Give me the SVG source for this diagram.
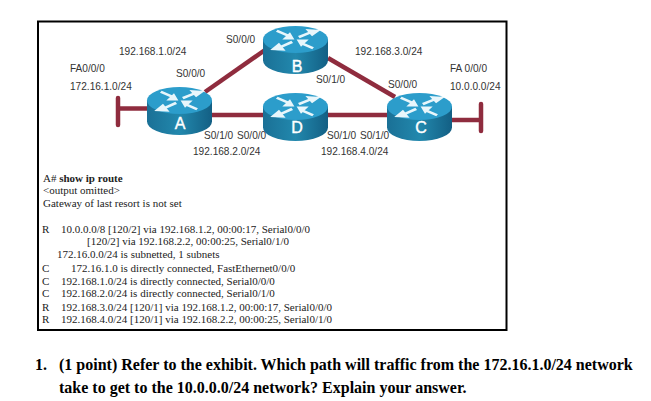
<svg xmlns="http://www.w3.org/2000/svg" xmlns:xlink="http://www.w3.org/1999/xlink" width="651" height="401" viewBox="0 0 651 401">
<style>
.l{font-family:"Liberation Sans",Arial,sans-serif;font-size:10.1px;fill:#333}
.t{font-family:"Liberation Serif","Times New Roman",serif;font-size:11px;fill:#222}
.q{font-family:"Liberation Serif","Times New Roman",serif;font-size:16px;font-weight:bold;fill:#000}
.n{font-family:"Liberation Sans",Arial,sans-serif;font-size:16px;fill:#fff;text-anchor:middle;stroke:#fff;stroke-width:.4}
.link{stroke:#8f2c3e;stroke-width:4.500;fill:none}
.bar{stroke:#8f2c3e;stroke-width:4.500;stroke-linecap:round;fill:none}
.arr{fill:#e8f6fb}
.sh{stroke:#e8f6fb;stroke-width:3;fill:none}
</style>
<defs>
<linearGradient id="side" x1="0" x2="1" y1="0" y2="0"><stop offset="0" stop-color="#1a7096"/><stop offset=".5" stop-color="#2288ad"/><stop offset="1" stop-color="#135f84"/></linearGradient>
<g id="router">
<path d="M-32.500 -10.500V10.500A32.500 13.500 0 0 0 32.500 10.500V-10.500Z" fill="url(#side)"/>
<ellipse cx="0" cy="-10.500" rx="32.500" ry="13.500" fill="#2c9dcb"/>
<g transform="translate(0 -10.500) scale(1.1 .8) translate(0 8)">
<path class="sh" d="M3 -11L14 -17M-3 -5L-13 1M-17 -19L-7 -13M16 3L6 -3"/>
<path class="arr" d="M23 -20L9 -21L15 -12ZM-23 5L-9 6L-15 -4ZM-1 -8L-12 -8L-5 -17ZM1 -8L12 -8L5 1Z"/>
</g>
</g>
</defs>
<rect width="651" height="401" fill="#fff"/>
<rect x="38" y="21.500" width="468.500" height="308.500" fill="#fff" stroke="#000" stroke-width="2"/>
<g id="connectors">
<path class="link" d="M205 92L265 50"/>
<path class="link" d="M328 58L395 97"/>
<path class="link" d="M210 115H265"/>
<path class="link" d="M326 115H389"/>
<path class="link" d="M118 108.500H149"/>
<path class="bar" d="M118 98V125"/>
<path class="link" d="M450 120H481"/>
<path class="bar" d="M481 104V131"/>
</g>
<g id="A"><use href="#router" x="179.500" y="111"/><text class="n" x="180" y="129">A</text></g>
<g id="B"><use href="#router" x="295.500" y="50"/><text class="n" x="297" y="72">B</text></g>
<g id="D"><use href="#router" x="295.500" y="117"/><text class="n" x="297" y="133">D</text></g>
<g id="C"><use href="#router" x="419.500" y="117"/><text class="n" x="421" y="133">C</text></g>
<g id="labels">
<text class="l" x="226" y="43">S0/0/0</text>
<text class="l" x="119" y="55">192.168.1.0/24</text>
<text class="l" x="70" y="72">FA0/0/0</text>
<text class="l" x="176" y="77">S0/0/0</text>
<text class="l" x="70" y="90">172.16.1.0/24</text>
<text class="l" x="204" y="139">S0/1/0</text>
<text class="l" x="237" y="139">S0/0/0</text>
<text class="l" x="193" y="155">192.168.2.0/24</text>
<text class="l" x="355" y="55">192.168.3.0/24</text>
<text class="l" x="450" y="72">FA 0/0/0</text>
<text class="l" x="450" y="90">10.0.0.0/24</text>
<text class="l" x="316" y="83">S0/1/0</text>
<text class="l" x="388" y="88">S0/0/0</text>
<text class="l" x="327" y="139">S0/1/0</text>
<text class="l" x="360" y="139">S0/1/0</text>
<text class="l" x="321" y="155">192.168.4.0/24</text>
</g>
<g id="output">
<text class="t" x="43" y="182">A# <tspan font-weight="bold">show ip route</tspan></text>
<text class="t" x="43" y="194">&lt;output omitted&gt;</text>
<text class="t" x="43" y="207">Gateway of last resort is not set</text>
<text class="t" x="42" y="233">R</text><text class="t" x="61" y="233">10.0.0.0/8 [120/2] via 192.168.1.2, 00:00:17, Serial0/0/0</text>
<text class="t" x="87" y="245">[120/2] via 192.168.2.2, 00:00:25, Serial0/1/0</text>
<text class="t" x="57" y="258">172.16.0.0/24 is subnetted, 1 subnets</text>
<text class="t" x="42" y="272">C</text><text class="t" x="71" y="272">172.16.1.0 is directly connected, FastEthernet0/0/0</text>
<text class="t" x="42" y="285">C</text><text class="t" x="61" y="285">192.168.1.0/24 is directly connected, Serial0/0/0</text>
<text class="t" x="42" y="297">C</text><text class="t" x="61" y="297">192.168.2.0/24 is directly connected, Serial0/1/0</text>
<text class="t" x="42" y="311">R</text><text class="t" x="61" y="311">192.168.3.0/24 [120/1] via 192.168.1.2, 00:00:17, Serial0/0/0</text>
<text class="t" x="42" y="323">R</text><text class="t" x="61" y="323">192.168.4.0/24 [120/1] via 192.168.2.2, 00:00:25, Serial0/1/0</text>
</g>
<g id="question">
<text class="q" x="35" y="370">1.</text>
<text class="q" x="59" y="370">(1 point) Refer to the exhibit. Which path will traffic from the 172.16.1.0/24 network</text>
<text class="q" x="59" y="393">take to get to the 10.0.0.0/24 network? Explain your answer.</text>
</g>
</svg>
